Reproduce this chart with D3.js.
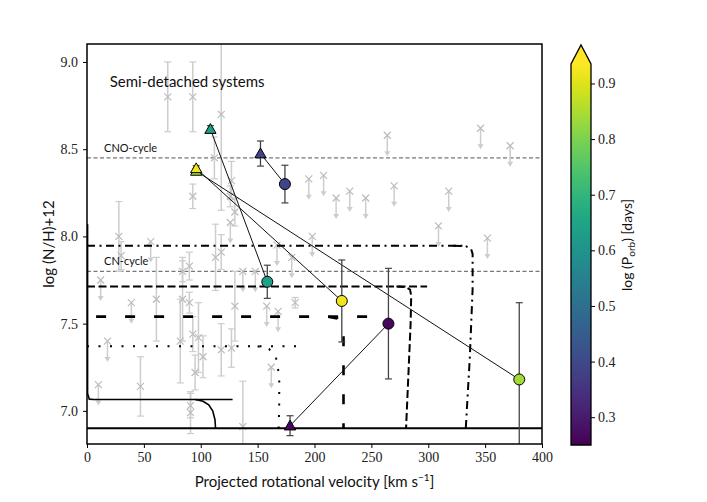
<!DOCTYPE html>
<html>
<head>
<meta charset="utf-8">
<script src="https://cdn.jsdelivr.net/npm/d3@7"></script>
<style>
    body { margin: 0; background: #fff; }
    svg { display: block; }
    .tick text { font-family: "Liberation Serif", serif; font-size: 14px; fill: #222; }
    .lbl { font-family: Lato, "DejaVu Sans", sans-serif; fill: #111; }
</style>
</head>
<body>
<svg id="chart" width="707" height="502"></svg>
<script>
// gray comparison stars: [vsini, logN, err]
const grayErrPoints = [
    [71, 8.80, 0.20], [93, 8.80, 0.20], [118, 8.70, 0.55], [112, 8.45, 0.12],
    [93, 8.23, 0.07], [126, 8.23, 0.06], [127, 8.32, 0.11], [130, 8.14, 0.08],
    [28, 8.00, 0.20], [30, 7.89, 0.08], [113, 7.88, 0.19], [118, 7.91, 0.10],
    [61, 7.64, 0.24], [84, 7.80, 0.06], [90, 7.83, 0.08], [84, 7.64, 0.24],
    [90, 7.62, 0.06], [82, 7.40, 0.24], [93, 7.44, 0.10], [98, 7.42, 0.20],
    [102, 7.31, 0.12], [95, 7.22, 0.10], [47, 7.14, 0.17], [91, 7.03, 0.07],
    [91, 6.99, 0.12], [137, 6.91, 0.26], [130, 7.60, 0.20], [118, 7.35, 0.15],
    [127, 7.36, 0.11], [183, 7.62, 0.03],
];
// gray upper limits: [vsini, logN]
const grayLimits = [
    [264, 8.58], [346, 8.62], [372, 8.52], [195, 8.33], [208, 8.35], [219, 8.22],
    [231, 8.26], [245, 8.22], [270, 8.29], [318, 8.26], [309, 8.06], [352, 7.99],
    [198, 8.00], [126, 8.08], [56, 7.97], [12, 7.75], [39, 7.62], [18, 7.40],
    [10, 7.15], [137, 7.80], [148, 7.80], [167, 7.95], [180, 7.88], [168, 7.57],
    [158, 7.60], [162, 7.25],
];
// semi-detached systems: [vsini, logN, err, logPorb]
const circleStars = [
    [158.5, 7.74, 0.095, 0.63],
    [224, 7.63, 0.235, 0.92],
    [380, 7.18, 0.44, 0.84],
    [174, 8.30, 0.108, 0.39],
    [265, 7.50, 0.317, 0.265],
];
const triangleStars = [
    [108.5, 8.615, 0.02, 0.63],
    [96, 8.375, 0.015, 0.84],
    [96, 8.39, 0.015, 0.92],
    [152.5, 8.475, 0.072, 0.39],
    [178.5, 6.915, 0.057, 0.265],
];
// pairs: index of triangle -> index of circle
const links = [[0, 0], [2, 1], [1, 2], [3, 3], [4, 4]];

// model tracks
const trackThick = [[0, 6.90], [400, 6.90]];
const trackSolid = [[0.5, 8.07], [0.5, 7.10], [2, 7.067], [6, 7.065], [128, 7.065]];
const trackSolidBend = [[95, 7.065], [102, 7.055], [107, 7.035], [110.5, 7.0], [112.5, 6.95], [113, 6.90]];
const trackDotted = [[0, 7.37], [190, 7.37]];
const trackDottedBend = [[150, 7.37], [160, 7.355], [166, 7.31], [169, 7.2], [169, 7.05], [168.5, 6.90]];
const trackDashed = [[8, 7.54], [249, 7.54]];
const trackDashedBend = [[212, 7.54], [220, 7.53], [224, 7.50], [225.5, 7.44], [225.5, 6.90]];
const trackLong = [[0, 7.713], [299, 7.713]];
const trackLongBend = [[272, 7.713], [280, 7.71], [284, 7.695], [285, 7.66], [284.5, 7.50], [282.5, 7.2], [280.5, 6.90]];
const trackDashDot = [[0, 7.946], [330, 7.946]];
const trackDashDotBend = [[322, 7.946], [333, 7.944], [337.5, 7.93], [339, 7.90], [339, 7.70], [336.5, 7.30], [333, 6.90]];

const cycleLines = [[8.45, "CNO-cycle"], [7.80, "CN-cycle"]];
const xTicks = [0, 50, 100, 150, 200, 250, 300, 350, 400];
const yTicks = [7.0, 7.5, 8.0, 8.5, 9.0];
const cTicks = [0.3, 0.4, 0.5, 0.6, 0.7, 0.8, 0.9];

const svg = d3.select("#chart");
const margin = { top: 44, right: 165, bottom: 58, left: 87 };
const width = 707, height = 502;

const x = d3.scaleLinear().domain([0, 400]).range([margin.left, width - margin.right]);
const y = d3.scaleLinear().domain([6.81, 9.103]).range([height - margin.bottom, margin.top]);
const cNorm = d3.scaleLinear().domain([0.25, 0.935]).range([0, 1]).clamp(true);
const color = (v) => d3.interpolateViridis(cNorm(v));

svg.append("clipPath").attr("id", "clip")
    .append("rect")
    .attr("x", margin.left).attr("y", margin.top)
    .attr("width", x(400) - margin.left).attr("height", y(6.81) - margin.top);

const plot = svg.append("g").attr("clip-path", "url(#clip)");
const line = d3.line().x((d) => x(d[0])).y((d) => y(d[1]));

// reference lines
cycleLines.forEach(([val, name]) => {
    plot.append("line")
        .attr("x1", x(0)).attr("x2", x(400))
        .attr("y1", y(val)).attr("y2", y(val))
        .attr("stroke", "#555").attr("stroke-width", 1)
        .attr("stroke-dasharray", "4,2.5");
    svg.append("text").attr("class", "lbl")
        .attr("x", x(15)).attr("y", y(val) - 6)
        .attr("font-size", 11).attr("fill", "#444")
        .text(name);
});

// gray sample
const gray = plot.append("g");
grayErrPoints.forEach(([v, n, e]) => {
    gray.append("line")
        .attr("x1", x(v)).attr("x2", x(v)).attr("y1", y(n - e)).attr("y2", y(n + e))
        .attr("stroke", "#cdcdcd").attr("stroke-width", 1.5);
    [n - e, n + e].forEach((c) => {
        gray.append("line")
            .attr("x1", x(v) - 3.5).attr("x2", x(v) + 3.5).attr("y1", y(c)).attr("y2", y(c))
            .attr("stroke", "#cdcdcd").attr("stroke-width", 1.2);
    });
});
grayLimits.forEach(([v, n]) => {
    const tip = y(n - 0.12);
    gray.append("line")
        .attr("x1", x(v)).attr("x2", x(v)).attr("y1", y(n)).attr("y2", tip - 3)
        .attr("stroke", "#cdcdcd").attr("stroke-width", 1.5);
    gray.append("path")
        .attr("d", `M${x(v) - 3},${tip - 5}L${x(v) + 3},${tip - 5}L${x(v)},${tip}Z`)
        .attr("fill", "#cdcdcd");
});
const allGray = grayErrPoints.map((d) => [d[0], d[1]]).concat(grayLimits);
allGray.forEach(([v, n]) => {
    gray.append("path")
        .attr("d", `M${x(v) - 3.5},${y(n) - 3.5}L${x(v) + 3.5},${y(n) + 3.5}M${x(v) - 3.5},${y(n) + 3.5}L${x(v) + 3.5},${y(n) - 3.5}`)
        .attr("stroke", "#bcbcbc").attr("stroke-width", 1.2);
});

// model tracks
const tracks = [
    [trackThick, 2, null],
    [trackSolid, 1.6, null],
    [trackSolidBend, 1.6, null],
    [trackDotted, 2, "2,9.5"],
    [trackDottedBend, 2, "2,9.5"],
    [trackDashed, 2.6, "10,19"],
    [trackDashedBend, 2.6, "10,19"],
    [trackLong, 2, "8,3.5"],
    [trackLongBend, 2, "8,3.5"],
    [trackDashDot, 2, "8,4.5,2,4.5"],
    [trackDashDotBend, 2, "8,4.5,2,4.5"],
];
tracks.forEach(([data, w, dash]) => {
    plot.append("path")
        .datum(data)
        .attr("d", line)
        .attr("fill", "none")
        .attr("stroke", "#000")
        .attr("stroke-width", w)
        .attr("stroke-dasharray", dash);
});

// connecting lines
links.forEach(([t, c]) => {
    plot.append("line")
        .attr("x1", x(triangleStars[t][0])).attr("y1", y(triangleStars[t][1]))
        .attr("x2", x(circleStars[c][0])).attr("y2", y(circleStars[c][1]))
        .attr("stroke", "#111").attr("stroke-width", 1);
});

// error bars for systems
circleStars.concat(triangleStars).forEach(([v, n, e]) => {
    plot.append("line")
        .attr("x1", x(v)).attr("x2", x(v)).attr("y1", y(n - e)).attr("y2", y(n + e))
        .attr("stroke", "#444").attr("stroke-width", 1.3);
    [n - e, n + e].forEach((c) => {
        plot.append("line")
            .attr("x1", x(v) - 3.5).attr("x2", x(v) + 3.5).attr("y1", y(c)).attr("y2", y(c))
            .attr("stroke", "#444").attr("stroke-width", 1.2);
    });
});

triangleStars.forEach(([v, n, e, p]) => {
    plot.append("path")
        .attr("d", d3.symbol(d3.symbolTriangle, 55)())
        .attr("transform", `translate(${x(v)},${y(n) + 1})`)
        .attr("fill", color(p)).attr("stroke", "#000").attr("stroke-width", 1);
});
circleStars.forEach(([v, n, e, p]) => {
    plot.append("circle")
        .attr("cx", x(v)).attr("cy", y(n)).attr("r", 5.5)
        .attr("fill", color(p)).attr("stroke", "#000").attr("stroke-width", 1);
});

// axes
svg.append("g")
    .attr("transform", `translate(0,${y(6.81)})`)
    .call(d3.axisBottom(x).tickValues(xTicks).tickFormat(d3.format("d")).tickSize(4).tickPadding(4))
    .call((g) => g.select(".domain").remove());
svg.append("g")
    .attr("transform", `translate(${margin.left},0)`)
    .call(d3.axisLeft(y).tickValues(yTicks).tickFormat(d3.format(".1f")).tickSize(4).tickPadding(5))
    .call((g) => g.select(".domain").remove());

svg.append("rect")
    .attr("x", margin.left).attr("y", margin.top)
    .attr("width", x(400) - margin.left).attr("height", y(6.81) - margin.top)
    .attr("fill", "none").attr("stroke", "#000").attr("stroke-width", 1.5);

svg.append("text").attr("class", "lbl")
    .attr("x", x(20)).attr("y", 87)
    .attr("font-size", 15)
    .text("Semi-detached systems");

const xl = svg.append("text").attr("class", "lbl")
    .attr("x", (x(0) + x(400)) / 2).attr("y", 487)
    .attr("text-anchor", "middle").attr("font-size", 15)
    .text("Projected rotational velocity [km s");
xl.append("tspan").attr("font-size", 10).attr("dy", -6).text("\u22121");
xl.append("tspan").attr("dy", 6).text("]");

svg.append("text").attr("class", "lbl")
    .attr("transform", `translate(54,${(y(6.81) + margin.top) / 2}) rotate(-90)`)
    .attr("text-anchor", "middle").attr("font-size", 15)
    .text("log (N/H)+12");

// colorbar
const cbX = 571, cbW = 20, cbTop = 64, cbBottom = 445;
const cy = d3.scaleLinear().domain([0.25, 0.935]).range([cbBottom, cbTop]);
const grad = svg.append("defs").append("linearGradient")
    .attr("id", "viridis").attr("x1", 0).attr("y1", 1).attr("x2", 0).attr("y2", 0);
d3.range(0, 1.0001, 0.05).forEach((t) => {
    grad.append("stop").attr("offset", t).attr("stop-color", d3.interpolateViridis(t));
});
svg.append("rect")
    .attr("x", cbX).attr("y", cbTop).attr("width", cbW).attr("height", cbBottom - cbTop)
    .attr("fill", "url(#viridis)");
svg.append("path")
    .attr("d", `M${cbX},${cbTop}L${cbX + cbW / 2},${cbTop - 19}L${cbX + cbW},${cbTop}Z`)
    .attr("fill", d3.interpolateViridis(1));
svg.append("path")
    .attr("d", `M${cbX},${cbBottom}L${cbX},${cbTop}L${cbX + cbW / 2},${cbTop - 19}L${cbX + cbW},${cbTop}L${cbX + cbW},${cbBottom}Z`)
    .attr("fill", "none").attr("stroke", "#000").attr("stroke-width", 1.3);
svg.append("g")
    .attr("transform", `translate(${cbX + cbW},0)`)
    .call(d3.axisRight(cy).tickValues(cTicks).tickFormat(d3.format(".1f")).tickSize(4).tickPadding(3))
    .call((g) => g.select(".domain").remove());

const cl = svg.append("text").attr("class", "lbl")
    .attr("transform", `translate(632,245) rotate(-90)`)
    .attr("text-anchor", "middle").attr("font-size", 14)
    .text("log (P");
cl.append("tspan").attr("font-size", 10).attr("dy", 3).text("orb");
cl.append("tspan").attr("dy", -3).text(") [days]");
</script>
</body>
</html>
